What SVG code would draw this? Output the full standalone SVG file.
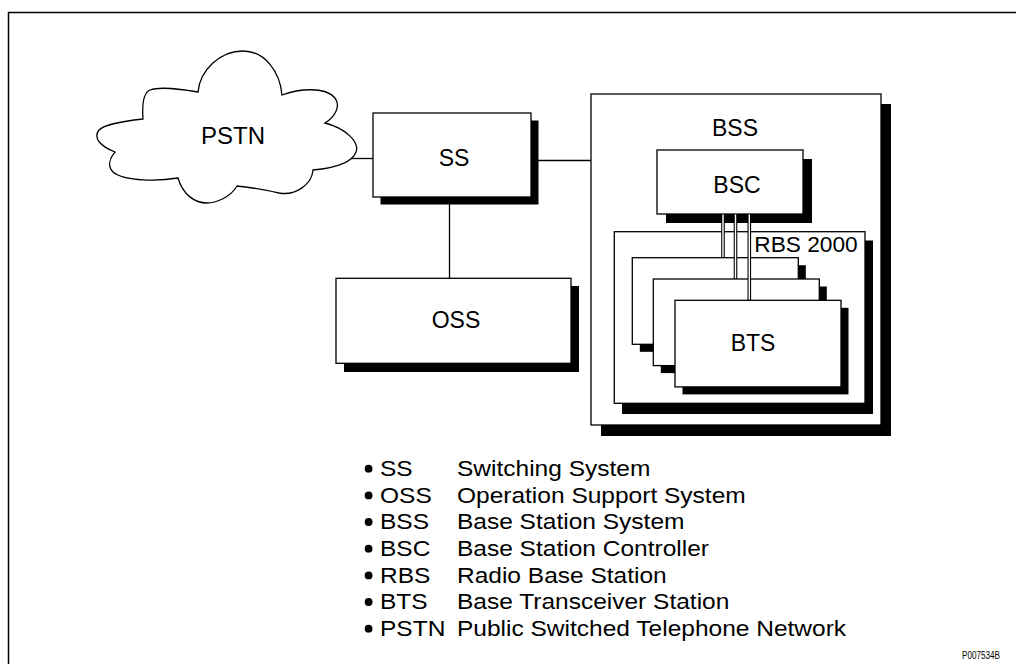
<svg xmlns="http://www.w3.org/2000/svg" width="1016" height="664" viewBox="0 0 1016 664">
<style>
.box{fill:#fff;stroke:#000;stroke-width:1.3}
.sh{fill:#000}
.ln{fill:none;stroke:#000;stroke-width:1.3}
.lbl{font-family:"Liberation Sans",Arial,sans-serif;font-size:23px;fill:#000;text-anchor:middle}
.lg{font-family:"Liberation Sans",Arial,sans-serif;font-size:22.5px;fill:#000}
.cb{fill:none;stroke:#000;stroke-width:3.6}
.cw{fill:none;stroke:#fff;stroke-width:1.4}
</style>
<rect width="1016" height="664" fill="#fff"/>
<path d="M8.5,664 V12.5 H1016" fill="none" stroke="#000" stroke-width="1.5"/>

<g id="connectors">
<line class="ln" x1="350" y1="158.5" x2="373" y2="158.5"/>
<line class="ln" x1="531" y1="160.5" x2="591" y2="160.5"/>
<line class="ln" x1="449.5" y1="197" x2="449.5" y2="278"/>
</g>

<g id="pstn">
<path class="box" d="M198,92 C200,70 220,51 243,51 C265,51 280,72 282,95 C298,89 325,86 335,98 C341,106 335,117 325,123 C345,128 360,142 356,152 C352,163 335,168 313,170 C312,184 296,196 279,193 C265,190 250,187 237,186 C230,198 215,203 207,203 C195,203 183,195 178,178 C160,181 125,182 113,172 C107,166 110,158 115,152 C100,146 93,138 99,130 C105,124 125,121 143,119 C142,105 143,93 150,90 C160,86 180,89 198,92 Z"/>
<text class="lbl" x="233" y="144" style="font-size:24px">PSTN</text>
</g>

<g id="ss">
<rect class="sh" x="380.5" y="120.5" width="158" height="84"/>
<rect class="box" x="373" y="113" width="158" height="84"/>
<text class="lbl" x="454" y="166">SS</text>
</g>

<g id="oss">
<rect class="sh" x="344" y="286" width="235" height="86"/>
<rect class="box" x="336" y="278.3" width="235" height="85"/>
<text class="lbl" x="456" y="328">OSS</text>
</g>

<g id="bss">
<rect class="sh" x="601" y="104" width="290" height="332"/>
<rect class="box" x="591" y="94" width="290" height="331"/>
<text class="lbl" x="735" y="136">BSS</text>
</g>

<g id="bsc">
<rect class="sh" x="666" y="159" width="146" height="64"/>
<rect class="box" x="657" y="150" width="146" height="64"/>
<text class="lbl" x="737" y="193">BSC</text>
</g>

<g id="rbs">
<rect class="sh" x="622" y="240.5" width="251" height="173.5"/>
<rect class="box" x="614.3" y="231.7" width="250.7" height="171.6"/>
<text class="lbl" x="806" y="252" style="font-size:22.7px">RBS 2000</text>
</g>

<g id="bts1">
<rect class="sh" x="639.8" y="265.2" width="166" height="86.6"/>
<rect class="box" x="632.3" y="257.7" width="166" height="86.6"/>
</g>
<g id="bts2">
<rect class="sh" x="660.8" y="286.5" width="166" height="86.6"/>
<rect class="box" x="653.3" y="279" width="166" height="86.6"/>
</g>
<g id="bts3">
<rect class="sh" x="682.5" y="307.8" width="166" height="86.6"/>
<rect class="box" x="675" y="300.3" width="166" height="86.6"/>
<text class="lbl" x="753" y="351">BTS</text>
</g>

<g id="bsc-bts-connectors">
<line class="cb" x1="723" y1="214.5" x2="723" y2="257.7"/>
<line class="cw" x1="723" y1="214.5" x2="723" y2="257"/>
<line class="cb" x1="735.5" y1="214.5" x2="735.5" y2="279"/>
<line class="cw" x1="735.5" y1="214.5" x2="735.5" y2="278.3"/>
<line class="cb" x1="749.3" y1="214.5" x2="749.3" y2="300.3"/>
<line class="cw" x1="749.3" y1="214.5" x2="749.3" y2="299.6"/>
</g>

<g id="legend">
<circle cx="368.6" cy="468.7" r="3.9"/>
<circle cx="368.6" cy="495.4" r="3.9"/>
<circle cx="368.6" cy="522" r="3.9"/>
<circle cx="368.6" cy="548.7" r="3.9"/>
<circle cx="368.6" cy="575.4" r="3.9"/>
<circle cx="368.6" cy="602" r="3.9"/>
<circle cx="368.6" cy="628.7" r="3.9"/>
<g transform="translate(380,0) scale(1.09,1)">
<text class="lg" x="0" y="476">SS</text>
<text class="lg" x="0" y="502.7">OSS</text>
<text class="lg" x="0" y="529.3">BSS</text>
<text class="lg" x="0" y="556">BSC</text>
<text class="lg" x="0" y="582.7">RBS</text>
<text class="lg" x="0" y="609.3">BTS</text>
<text class="lg" x="0" y="636">PSTN</text>
<text class="lg" x="70.6" y="476">Switching System</text>
<text class="lg" x="70.6" y="502.7">Operation Support System</text>
<text class="lg" x="70.6" y="529.3">Base Station System</text>
<text class="lg" x="70.6" y="556">Base Station Controller</text>
<text class="lg" x="70.6" y="582.7">Radio Base Station</text>
<text class="lg" x="70.6" y="609.3">Base Transceiver Station</text>
<text class="lg" x="70.6" y="636">Public Switched Telephone Network</text>
</g>
</g>

<text x="962" y="659" font-family="'Liberation Sans',Arial,sans-serif" font-size="11" textLength="38" lengthAdjust="spacingAndGlyphs">P007534B</text>
</svg>
